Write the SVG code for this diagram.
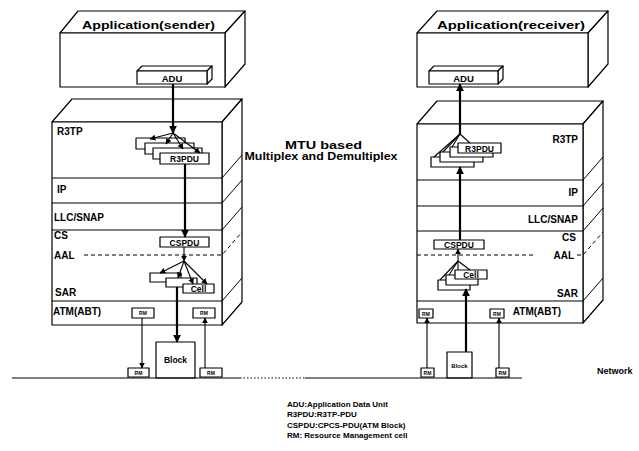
<svg xmlns="http://www.w3.org/2000/svg" width="639" height="451" viewBox="0 0 639 451">
<style>
.o{fill:#fff;stroke:#000;stroke-width:1.2;stroke-linejoin:round}
.s{fill:none;stroke:#000;stroke-width:1}
.d{fill:none;stroke:#000;stroke-width:1;stroke-dasharray:4 3}
.t{font-family:"Liberation Sans",Arial,sans-serif;font-weight:bold;fill:#000}
.lb{font-size:10px}
.bx{font-size:8.5px}
.rm{font-size:5px}
.ln{fill:none;stroke:#000;stroke-width:1.1}
.th{fill:none;stroke:#000;stroke-width:2.2}
</style>
<defs>
<marker id="a" viewBox="0 0 10 10" refX="9" refY="5" markerWidth="6" markerHeight="6" markerUnits="userSpaceOnUse" orient="auto"><path d="M0,0 L10,5 L0,10 z" fill="#000"/></marker>
<marker id="b" viewBox="0 0 10 10" refX="9" refY="5" markerWidth="8" markerHeight="8" markerUnits="userSpaceOnUse" orient="auto"><path d="M0,0 L10,5 L0,10 z" fill="#000"/></marker>
</defs>
<rect width="639" height="451" fill="#fff"/>

<!-- Sender application -->
<g id="app-sender">
<path class="o" d="M60,33 L78,11 L245,11 L225,33 Z"/>
<path class="o" d="M225,33 L245,11 L245,64 L225,87 Z"/>
<rect class="o" x="60" y="33" width="165" height="54"/>
<text class="t" x="82" y="29" font-size="11" textLength="133" lengthAdjust="spacingAndGlyphs">Application(sender)</text>
</g>
<g id="adu-sender">
<path class="o" d="M137,71 L142,66 L212,66 L207,71 Z"/>
<path class="o" d="M207,71 L212,66 L212,79 L207,84 Z"/>
<rect class="o" x="137" y="71" width="70" height="13"/>
<text class="t" x="172" y="81.5" text-anchor="middle" font-size="9.5">ADU</text>
</g>

<!-- Sender stack -->
<g id="stack-sender">
<path class="o" d="M52,122 L72,99 L242,99 L222,122 Z"/>
<path class="o" d="M222,122 L242,99 L242,302 L222,325 Z"/>
<rect class="o" x="52" y="122" width="170" height="203"/>
<path class="s" d="M52,178 H222 L242,155 M52,203 H222 L242,180 M52,230 H222 L242,207 M52,301 H222 L242,278"/>
<path class="d" d="M84,255 H222 L242,232"/>
<text class="t lb" x="57" y="135">R3TP</text>
<text class="t lb" x="57" y="193">IP</text>
<text class="t lb" x="54" y="221">LLC/SNAP</text>
<text class="t lb" x="54" y="239" font-size="9">CS</text>
<text class="t lb" x="54" y="259">AAL</text>
<text class="t lb" x="55" y="296">SAR</text>
<text class="t lb" x="53" y="315">ATM(ABT)</text>
</g>
<g id="r3pdu-sender">
<rect class="o" x="136" y="138" width="49" height="11"/>
<rect class="o" x="145" y="143" width="49" height="11"/>
<rect class="o" x="153" y="148" width="49" height="11"/>
<rect class="o" x="160" y="153" width="49" height="11"/>
<text class="t bx" x="184.5" y="162" text-anchor="middle">R3PDU</text>
</g>
<g id="cspdu-sender">
<rect class="o" x="160" y="237" width="49" height="10"/>
<text class="t bx" x="184.5" y="245.5" text-anchor="middle">CSPDU</text>
</g>
<g id="cell-sender">
<rect class="o" x="150" y="273" width="31" height="9"/>
<rect class="o" x="166" y="278" width="31" height="9"/>
<rect class="o" x="183" y="284" width="31" height="9"/>
<text class="t bx" x="198.5" y="292" text-anchor="middle">Cell</text>
</g>
<g id="block-sender">
<rect class="o" x="156" y="342" width="39" height="36"/>
<text class="t bx" x="175.5" y="363" text-anchor="middle">Block</text>
</g>
<g id="rm-sender">
<rect class="o" x="132" y="308" width="22" height="10"/><text class="t rm" x="143" y="315" text-anchor="middle">RM</text>
<rect class="o" x="193" y="308" width="22" height="10"/><text class="t rm" x="204" y="315" text-anchor="middle">RM</text>
<rect class="o" x="128" y="368" width="21" height="9"/><text class="t rm" x="138.5" y="374.5" text-anchor="middle">RM</text>
<rect class="o" x="200" y="368" width="22" height="9"/><text class="t rm" x="211" y="374.5" text-anchor="middle">RM</text>
</g>

<!-- Receiver application -->
<g id="app-receiver">
<path class="o" d="M417,33 L437,11 L608,11 L588,33 Z"/>
<path class="o" d="M588,33 L608,11 L608,64 L588,87 Z"/>
<rect class="o" x="417" y="33" width="171" height="54"/>
<text class="t" x="437" y="29" font-size="11" textLength="148" lengthAdjust="spacingAndGlyphs">Application(receiver)</text>
</g>
<g id="adu-receiver">
<path class="o" d="M429,71 L434,66 L503,66 L498,71 Z"/>
<path class="o" d="M498,71 L503,66 L503,79 L498,84 Z"/>
<rect class="o" x="429" y="71" width="69" height="13"/>
<text class="t" x="463.5" y="81.5" text-anchor="middle" font-size="9.5">ADU</text>
</g>

<!-- Receiver stack -->
<g id="stack-receiver">
<path class="o" d="M417,124 L437,101 L603,101 L583,124 Z"/>
<path class="o" d="M583,124 L603,101 L603,300 L583,323 Z"/>
<rect class="o" x="417" y="124" width="166" height="199"/>
<path class="s" d="M417,180 H583 L603,157 M417,206 H583 L603,183 M417,231 H583 L603,208 M417,301 H583 L603,278"/>
<path class="d" d="M417,255 H534 M577,255 H583 L603,232"/>
<text class="t lb" x="578" y="143" text-anchor="end">R3TP</text>
<text class="t lb" x="578" y="196" text-anchor="end">IP</text>
<text class="t lb" x="578" y="223" text-anchor="end">LLC/SNAP</text>
<text class="t lb" x="576" y="241" text-anchor="end" font-size="9">CS</text>
<text class="t lb" x="574" y="259" text-anchor="end">AAL</text>
<text class="t lb" x="578" y="297" text-anchor="end">SAR</text>
<text class="t lb" x="561" y="315" text-anchor="end">ATM(ABT)</text>
</g>
<g id="r3pdu-receiver">
<rect class="o" x="431" y="157" width="43" height="10"/>
<rect class="o" x="440" y="152" width="43" height="10"/>
<rect class="o" x="450" y="147" width="43" height="10"/>
<rect class="o" x="458" y="143" width="43" height="10"/>
<text class="t bx" x="479.5" y="151.5" text-anchor="middle">R3PDU</text>
</g>
<g id="cspdu-receiver">
<rect class="o" x="434" y="240" width="50" height="9"/>
<text class="t bx" x="459" y="247.8" text-anchor="middle">CSPDU</text>
</g>
<g id="cell-receiver">
<rect class="o" x="438" y="280" width="32" height="10"/>
<rect class="o" x="446" y="275" width="32" height="10"/>
<rect class="o" x="455" y="270" width="32" height="9"/>
<text class="t bx" x="471" y="277.8" text-anchor="middle">Cell</text>
</g>
<g id="block-receiver">
<rect class="o" x="447" y="352" width="25" height="26"/>
<text class="t" x="459.5" y="368" text-anchor="middle" font-size="6">Block</text>
</g>
<g id="rm-receiver">
<rect class="o" x="419" y="309" width="14" height="9"/><text class="t rm" x="426" y="315.5" text-anchor="middle" font-size="4.5">RM</text>
<rect class="o" x="490" y="309" width="14" height="9"/><text class="t rm" x="497" y="315.5" text-anchor="middle" font-size="4.5">RM</text>
<rect class="o" x="421" y="368" width="13" height="9"/><text class="t rm" x="427.5" y="374.5" text-anchor="middle" font-size="4.5">RM</text>
<rect class="o" x="496" y="368" width="13" height="9"/><text class="t rm" x="502.5" y="374.5" text-anchor="middle" font-size="4.5">RM</text>
</g>

<!-- Connectors -->
<g id="connectors">
<!-- sender -->
<path class="th" d="M173,84 V133" marker-end="url(#b)"/>
<path class="ln" d="M173,133 L150,139" marker-end="url(#a)"/>
<path class="ln" d="M173,133 L166,144" marker-end="url(#a)"/>
<path class="ln" d="M173,133 L183,149" marker-end="url(#a)"/>
<path class="ln" d="M173,133 L200,153" marker-end="url(#a)"/>
<path class="th" d="M185,164 V237" marker-end="url(#b)"/>
<path class="ln" d="M184,247 V261" marker-end="url(#a)"/>
<path class="ln" d="M184,261 L160,273" marker-end="url(#a)"/>
<path class="ln" d="M184,261 L178,278" marker-end="url(#a)"/>
<path class="ln" d="M184,261 L193,284" marker-end="url(#a)"/>
<path class="ln" d="M184,261 L207,284" marker-end="url(#a)"/>
<path class="th" d="M177,287 V342" marker-end="url(#b)"/>
<path class="ln" d="M142,318 V368" marker-end="url(#a)"/>
<path class="ln" d="M205,368 V318" marker-end="url(#a)"/>
<!-- receiver -->
<path class="th" d="M460,134 V84" marker-end="url(#b)"/>
<path class="ln" d="M434,157 L460,134"/>
<path class="ln" d="M443,152 L460,134"/>
<path class="ln" d="M452,147 L460,134"/>
<path class="ln" d="M470,143 L460,134"/>
<path class="th" d="M460,240 V167" marker-end="url(#b)"/>
<path class="ln" d="M458,261 V249" marker-end="url(#a)"/>
<path class="ln" d="M440,280 L458,261"/>
<path class="ln" d="M449,275 L458,261"/>
<path class="ln" d="M458,270 L458,261"/>
<path class="ln" d="M470,270 L458,261"/>
<path class="th" d="M466,352 V289" marker-end="url(#b)"/>
<path class="ln" d="M427,368 V318" marker-end="url(#a)"/>
<path class="ln" d="M499,368 V318" marker-end="url(#a)"/>
<!-- network -->
<path class="s" d="M12,378 H240" stroke-width="1.3"/>
<path class="s" d="M240,378 H305" stroke-dasharray="1.5 2" stroke-width="1.3"/>
<path class="s" d="M305,378 H522" stroke-width="1.3"/>
</g>

<text class="t" x="597" y="374" font-size="9">Network</text>
<text class="t" x="323.5" y="149" font-size="10.5" text-anchor="middle" textLength="77" lengthAdjust="spacingAndGlyphs">MTU based</text>
<text class="t" x="321" y="160" font-size="10.5" text-anchor="middle" textLength="153" lengthAdjust="spacingAndGlyphs">Multiplex and Demultiplex</text>

<g id="legend" class="t" font-size="8">
<text x="287" y="407">ADU:Application Data Unit</text>
<text x="287" y="417">R3PDU:R3TP-PDU</text>
<text x="287" y="428">CSPDU:CPCS-PDU(ATM Block)</text>
<text x="287" y="438">RM: Resource Management cell</text>
</g>
</svg>
